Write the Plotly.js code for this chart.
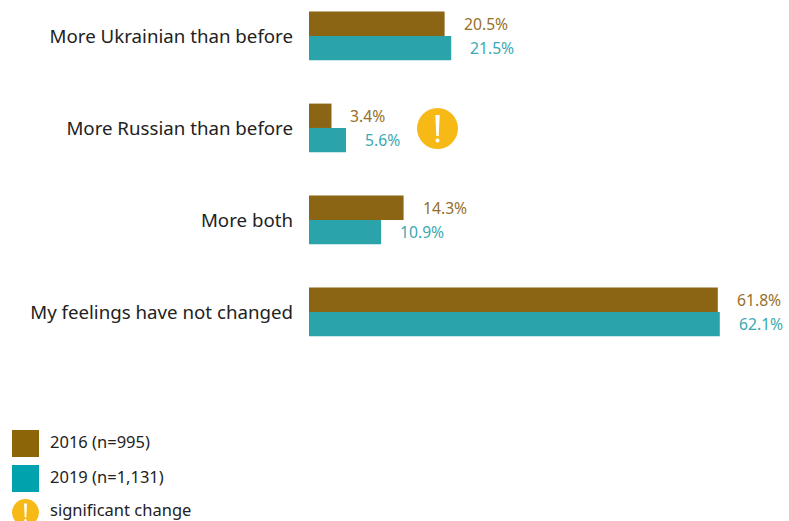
<!DOCTYPE html>
<html><head><meta charset="utf-8">
<script src="https://cdn.plot.ly/plotly-3.0.1.min.js"></script>
<style>html,body{margin:0;padding:0;background:#fff}#c{width:789px;height:521px}</style></head>
<body><div id="c"></div>
<script>
const categories = ["More Ukrainian than before","More Russian than before","More both","My feelings have not changed"];
const values2016 = [20.5,3.4,14.3,61.8];
const values2019 = [21.5,5.6,10.9,62.1];
const legendNames = ["2016 (n=995)","2019 (n=1,131)","significant change"];
const colour2016 = "#8B6514";
const colour2019 = "#2BA3AB";
const font = "Noto Sans, Open Sans, sans-serif";
const W=789,H=521,L=309,R=6,PW=W-L-R;
const px=v=>(v-L)/PW, py=v=>1-v/H;
const mk=(name,vals,col,off)=>({type:"bar",orientation:"h",name,x:vals,y:categories,width:0.265,offset:off,
  marker:{color:col,line:{width:0}},hoverinfo:"x+y",showlegend:false});
const data=[mk(legendNames[0],values2016,colour2016,-0.265),mk(legendNames[1],values2019,colour2019,0)];
const ann=[];
categories.forEach((c,i)=>{
  [[values2016,"#96702A",-0.1325],[values2019,"#3BA9B1",0.1325]].forEach(([v,col,off])=>{
    ann.push({xref:"x",yref:"y",x:v[i],y:i+off,text:v[i].toFixed(1)+"%",showarrow:false,xanchor:"left",xshift:17,yanchor:"middle",
      font:{family:font,size:15.7,color:col}});
  });
});
[441.5,476.5,509.5].forEach((y,i)=>{
  ann.push({xref:"paper",yref:"paper",x:px(47.5),y:py(y),text:legendNames[i],showarrow:false,xanchor:"left",yanchor:"middle",
    font:{family:font,size:16.5,color:"#222"}});
});
const warn=(cx,cy,r)=>{
  const s=r/20.5;
  const X=d=>px(cx+d*s), Y=d=>py(cy+d*s);
  return [
   {type:"circle",xref:"paper",yref:"paper",x0:X(-20.5),x1:X(20.5),y0:Y(20.5),y1:Y(-20.5),fillcolor:"#F7B916",line:{width:0}},
   {type:"path",xref:"paper",yref:"paper",path:`M${X(-2.2)},${Y(-13.5)} L${X(2.2)},${Y(-13.5)} L${X(1.2)},${Y(7.5)} L${X(-1.2)},${Y(7.5)} Z`,fillcolor:"#fff",line:{width:0}},
   {type:"circle",xref:"paper",yref:"paper",x0:X(-2),x1:X(2),y0:Y(14),y1:Y(10),fillcolor:"#fff",line:{width:0}}
  ];
};
const shapes=[
 {type:"rect",xref:"paper",yref:"paper",x0:px(12),x1:px(39),y0:py(457),y1:py(430),fillcolor:"#8B6508",line:{width:0}},
 {type:"rect",xref:"paper",yref:"paper",x0:px(12),x1:px(39),y0:py(492),y1:py(465),fillcolor:"#00A3AD",line:{width:0}},
 ...warn(25.5,512.5,13.5),
 ...warn(437.5,128.5,20.5)
];
const layout={
  width:W,height:H,margin:{l:L,r:R,t:0,b:0},paper_bgcolor:"#fff",plot_bgcolor:"#fff",showlegend:false,
  xaxis:{range:[0,PW/6.615],visible:false,fixedrange:true},
  yaxis:{range:[5.272,-0.391],autorange:false,showgrid:false,zeroline:false,showline:false,ticks:"",
    tickfont:{family:font,size:18.7,color:"#222"},fixedrange:true,automargin:false,ticklabelstandoff:15},
  annotations:ann,shapes
};
Plotly.newPlot("c",data,layout,{displayModeBar:false,staticPlot:true});
</script></body></html>
